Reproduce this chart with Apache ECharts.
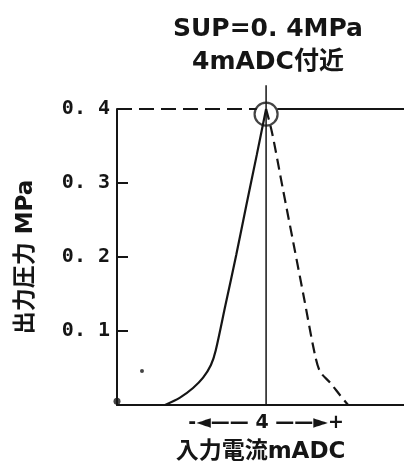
<!DOCTYPE html>
<html>
<head>
<meta charset="utf-8">
<script src="https://cdn.jsdelivr.net/npm/echarts@6/dist/echarts.min.js"></script>
<style>
html,body{margin:0;padding:0;background:#fff;}
#chart{width:404px;height:461px;}
</style>
</head>
<body>
<div id="chart"></div>
<script>
// 入力電流(mADC) と 出力圧力(MPa)
var riseX = [1.29, 1.69, 2.04, 2.31, 2.52, 2.65, 2.91, 3.2, 3.47, 3.75, 4.0];
var riseY = [0, 0.01, 0.023, 0.037, 0.054, 0.074, 0.135, 0.203, 0.27, 0.338, 0.4];
var fallX = [4.0, 4.16, 4.45, 4.74, 5.02, 5.31, 5.45, 5.72, 5.98, 6.2];
var fallY = [0.4, 0.368, 0.292, 0.217, 0.144, 0.068, 0.045, 0.03, 0.0135, 0];
var supX = [0, 3.75, 4.3, 7.7];   // 0.4MPa ライン (破線部 / 実線部)
var supY = 0.4;
var centerX = 4;
var centerTop = 0.432;
var peak = [4, 0.393];
var specks = [[0.67, 0.046], [0, 0.005]];
var yTicks = [0, 0.1, 0.2, 0.3, 0.4];

var titleLines = ['SUP=0. 4MPa', '4mADC付近'];
var xLabel = '-◄—— 4 ——►+';
var xName = '入力電流mADC';
var yName = '出力圧力 MPa';

function zip(xs, ys) {
    var out = [];
    for (var i = 0; i < xs.length; i++) out.push([xs[i], ys[i]]);
    return out;
}

var ink = '#151515';
var sans = '"DejaVu Sans", "Noto Sans CJK JP"';
var myChart = echarts.init(document.getElementById('chart'));

var option = {
    animation: false,
    backgroundColor: '#fff',
    grid: {left: 117, right: 0, top: 109, bottom: 56, containLabel: false, outerBoundsMode: 'none'},
    graphic: [{
        type: 'text',
        x: 268,
        y: 13,
        style: {
            text: titleLines.join('\n'),
            textAlign: 'center',
            textVerticalAlign: 'top',
            lineHeight: 33,
            fill: ink,
            font: 'bold 25px ' + sans
        }
    }],
    xAxis: {
        type: 'value',
        min: 0,
        max: 7.7,
        interval: 4,
        name: xName,
        nameLocation: 'middle',
        nameGap: 36,
        nameTextStyle: {color: ink, fontSize: 23, fontWeight: 'bold', fontFamily: sans},
        axisLine: {lineStyle: {color: ink, width: 2}},
        axisTick: {show: false},
        splitLine: {show: false},
        axisLabel: {
            margin: 9,
            color: ink,
            fontSize: 19,
            fontWeight: 'bold',
            fontFamily: 'DejaVu Sans',
            showMaxLabel: false,
            formatter: function (v) { return v === centerX ? xLabel : ''; }
        }
    },
    yAxis: {
        type: 'value',
        min: yTicks[0],
        max: yTicks[yTicks.length - 1],
        interval: 0.1,
        name: yName,
        nameLocation: 'middle',
        nameGap: 79,
        nameTextStyle: {color: ink, fontSize: 23, fontWeight: 'bold', fontFamily: sans},
        axisLine: {lineStyle: {color: ink, width: 2}},
        axisTick: {inside: true, length: 11, lineStyle: {color: ink, width: 2}},
        splitLine: {show: false},
        axisLabel: {
            margin: 7,
            color: ink,
            fontSize: 20,
            fontWeight: 'bold',
            fontFamily: 'DejaVu Sans Mono',
            formatter: function (v) { return v === 0 ? '' : v.toFixed(1).replace('.', '. '); }
        }
    },
    series: [
        {
            name: 'rise', type: 'line', data: zip(riseX, riseY),
            showSymbol: false, smooth: 0.3,
            lineStyle: {color: ink, width: 2.2}
        },
        {
            name: 'fall', type: 'line', data: zip(fallX, fallY),
            showSymbol: false, smooth: 0.3,
            lineStyle: {color: ink, width: 2.2, type: [11, 6]}
        },
        {
            name: 'supDash', type: 'line', data: [[supX[0], supY], [supX[1], supY]],
            showSymbol: false,
            lineStyle: {color: ink, width: 2, type: [15, 7]}
        },
        {
            name: 'supSolid', type: 'line', data: [[supX[2], supY], [supX[3], supY]],
            showSymbol: false,
            lineStyle: {color: ink, width: 2}
        },
        {
            name: 'center', type: 'line', data: [[centerX, 0], [centerX, centerTop]],
            showSymbol: false, clip: false,
            lineStyle: {color: ink, width: 1.5}
        },
        {
            name: 'peak', type: 'scatter', data: [peak], clip: false,
            symbol: 'circle', symbolSize: 23,
            itemStyle: {color: 'rgba(0,0,0,0)', borderColor: ink, borderWidth: 2.2}
        },
        {
            name: 'specks', type: 'scatter', data: specks, clip: false,
            symbolSize: function (d) { return d[0] === 0 ? 7 : 4; },
            itemStyle: {color: ink}
        }
    ]
};
myChart.setOption(option);
</script>
</body>
</html>
